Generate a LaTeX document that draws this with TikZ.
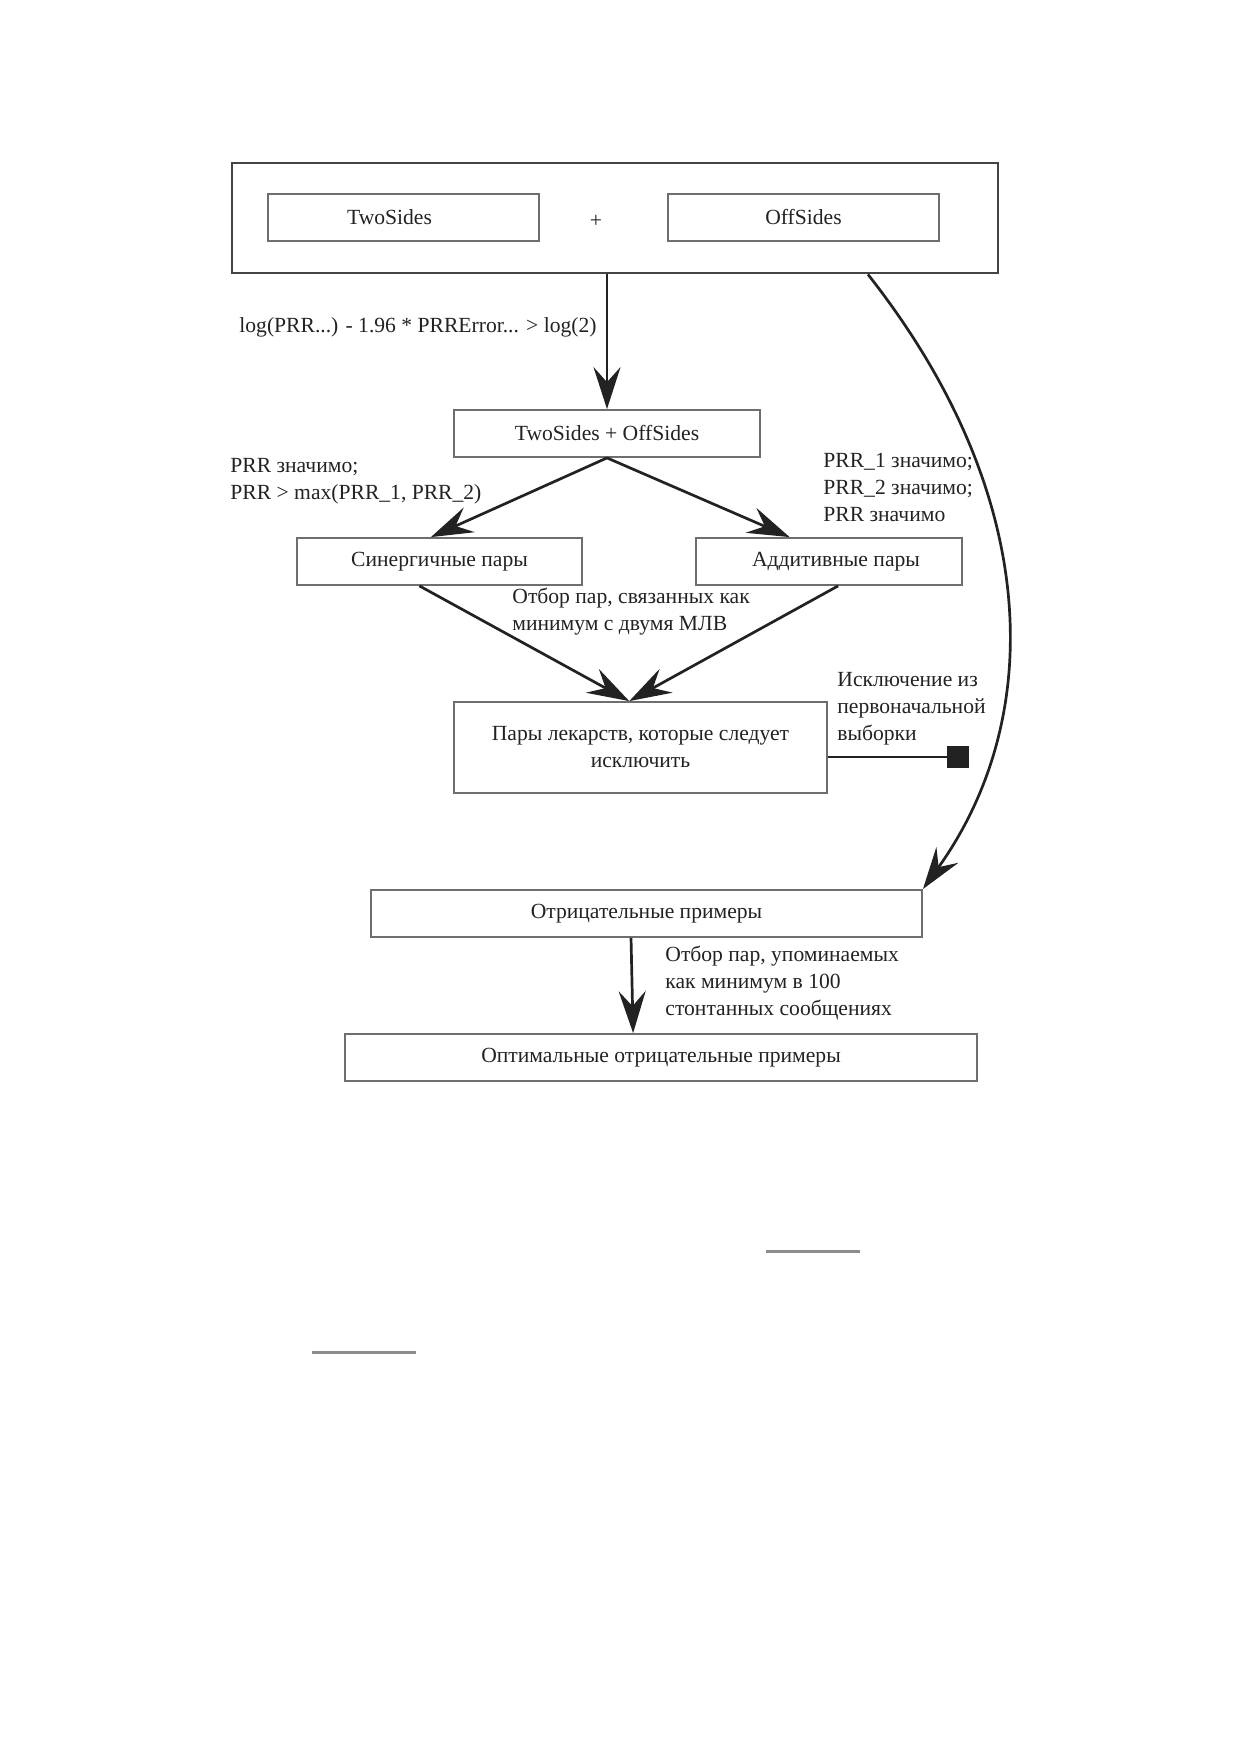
\documentclass[tikz,border=0pt]{standalone}
\usepackage{fontspec}
\setmainfont{Liberation Serif}
\usetikzlibrary{arrows.meta,calc}
\definecolor{ink}{HTML}{222222}
\definecolor{boxgray}{HTML}{6E6E6E}
\definecolor{outergray}{HTML}{444444}
\definecolor{rulegray}{HTML}{8C8C8C}
\begin{document}
\begin{tikzpicture}[x=0.5pt,y=-0.5pt,
  every node/.style={font=\fontsize{10.8pt}{13.5pt}\selectfont, text=ink},
  box/.style={draw=boxgray, line width=0.9pt, inner sep=0pt, minimum height=23.5pt},
  outerbox/.style={draw=outergray, line width=1.4pt, inner sep=0pt},
  arr/.style={draw=ink, line width=1.35pt, -{Stealth[length=21pt,width=13.5pt,inset=7.5pt]}},
  lbl/.style={align=left, inner sep=0pt, anchor=west},
  rule/.style={draw=rulegray, line width=1.5pt}]
\useasboundingbox (0,0) rectangle (1240,1754);

% top group
\node[outerbox, minimum width=383pt, minimum height=55pt] (outer) at (615,218) {};
\node[box, minimum width=135.5pt, text width=128pt, align=center] (two) at (403.5,217.5) {\hspace*{-14pt}TwoSides};
\node[box, minimum width=135.5pt] (off) at (803.5,217.5) {OffSides};
\node[inner sep=0pt] (plus) at (596,221) {+};

% main boxes
\node[box, minimum width=153pt] (ts) at (607,433.5) {TwoSides + OffSides};
\node[box, minimum width=142.5pt] (syn) at (439.5,561.5) {Синергичные пары};
\node[box, minimum width=133pt] (add) at (829,561.5) {\hspace*{7pt}Аддитивные пары};
\node[box, minimum width=186.5pt, minimum height=45.5pt, align=center] (excl) at (640.5,747.5) {Пары лекарств, которые следует\\исключить};
\node[box, minimum width=275.5pt] (neg) at (646.5,913.5) {Отрицательные примеры};
\node[box, minimum width=316pt] (opt) at (661,1057.5) {Оптимальные отрицательные примеры};

% labels
\node[lbl] (l1) at (239,327) {log(PRR...) - 1.96 * PRRError... > log(2)};
\node[lbl] (l2) at (230,481) {PRR значимо;\\PRR > max(PRR\_1, PRR\_2)};
\node[lbl] (l3) at (823,487) {PRR\_1 значимо;\\PRR\_2 значимо;\\PRR значимо};
\node[lbl] (l4) at (512,612) {Отбор пар, связанных как\\минимум с двумя МЛВ};
\node[lbl] (l5) at (837,709) {Исключение из\\первоначальной\\выборки};
\node[lbl] (l6) at (665,983) {Отбор пар, упоминаемых\\как минимум в 100\\стонтанных сообщениях};

% connection points
\coordinate (synin) at ($(syn.north west)!0.47!(syn.north east)$);
\coordinate (addin) at ($(add.north west)!0.353!(add.north east)$);
\coordinate (synout) at ($(syn.south west)!0.43!(syn.south east)$);
\coordinate (addout) at ($(add.south west)!0.534!(add.south east)$);
\coordinate (exclin) at ($(excl.north west)!0.47!(excl.north east)$);
\coordinate (cs) at ($(outer.south west)!0.829!(outer.south east)$);
\coordinate (negout) at ($(neg.south west)!0.472!(neg.south east)$);
\coordinate (optin) at ($(opt.north west)!0.456!(opt.north east)$);

% arrows
\draw[arr] (outer.south -| ts.north) -- (ts.north);
\draw[arr] (ts.south) -- (synin);
\draw[arr] (ts.south) -- (addin);
\draw[arr] (synout) -- (exclin);
\draw[arr] (addout) -- (exclin);
\draw[arr] (cs) .. controls (1044,498) and (1044,720) .. (neg.north east);
\draw[arr] (negout) -- (optin);

% exclusion line with square end
\node[fill=ink, minimum size=11pt, inner sep=0pt] (sq) at (958,757) {};
\draw[draw=ink, line width=1.35pt] (excl.east |- sq) -- (sq.west);

% decorative rules
\draw[rule] (766,1251) -- (860,1251);
\draw[rule] (312,1352) -- (416,1352);
\end{tikzpicture}
\end{document}
